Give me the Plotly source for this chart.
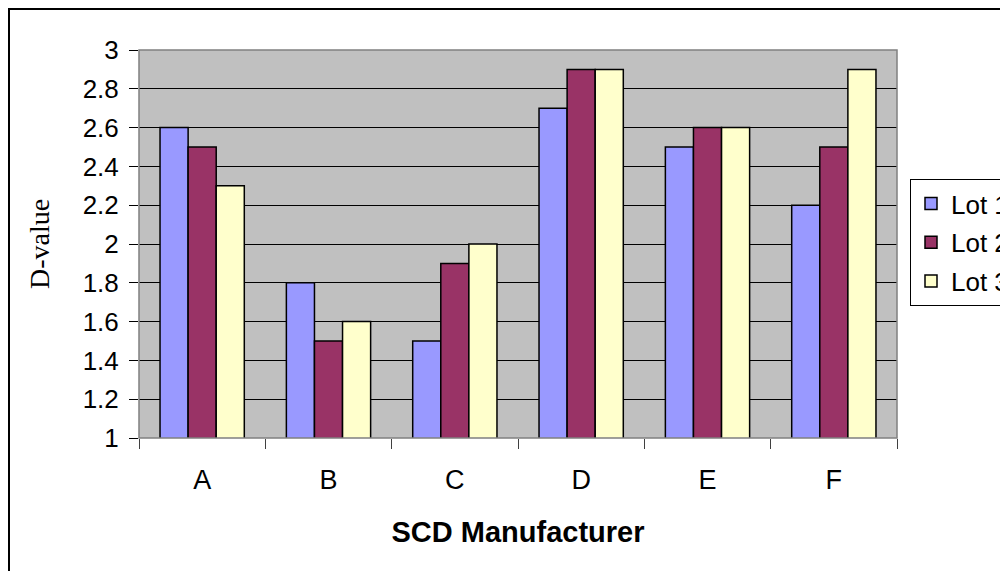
import plotly.graph_objects as go

categories = ["A", "B", "C", "D", "E", "F"]
lot1 = [2.6, 1.8, 1.5, 2.7, 2.5, 2.2]
lot2 = [2.5, 1.5, 1.9, 2.9, 2.6, 2.5]
lot3 = [2.3, 1.6, 2.0, 2.9, 2.6, 2.9]
series_names = ["Lot 1", "Lot 2", "Lot 3"]
colors = ["#9999FF", "#993366", "#FFFFCC"]
y_ticks = [1, 1.2, 1.4, 1.6, 1.8, 2, 2.2, 2.4, 2.6, 2.8, 3]
y_tick_text = ["1", "1.2", "1.4", "1.6", "1.8", "2", "2.2", "2.4", "2.6", "2.8", "3"]

# page body has an 8px margin, so the figure is offset by (8, 8)
W, H = 1000, 563
L, R, T, B = 131, 111, 42, 133
pw, ph = W - L - R, H - T - B

fig = go.Figure()
for i, (name, vals) in enumerate(zip(series_names, [lot1, lot2, lot3])):
    fig.add_trace(go.Bar(
        x=categories, y=vals, name=name,
        marker=dict(color=colors[i], line=dict(color="black", width=1.5)),
        legendgroup=name,
    ))

font_sans = "Liberation Sans, Arial, sans-serif"

fig.update_layout(
    width=W, height=H,
    margin=dict(l=L, r=R, t=T, b=B, autoexpand=False),
    paper_bgcolor="white",
    plot_bgcolor="#C0C0C0",
    barmode="group",
    bargap=0.333,
    bargroupgap=0,
    font=dict(family=font_sans, size=26, color="black"),
    xaxis=dict(
        type="category",
        tickson="boundaries",
        ticks="outside", ticklen=10, tickcolor="#404040", tickwidth=1,
        ticklabelstandoff=23,
        showgrid=False, showline=False,
        tickfont=dict(family=font_sans, size=27),
        title=dict(text="<b>SCD Manufacturer</b>", font=dict(family=font_sans, size=29), standoff=27),
    ),
    yaxis=dict(
        range=[1, 3],
        tickvals=y_ticks, ticktext=y_tick_text,
        ticks="outside", ticklen=9, tickcolor="black", tickwidth=1,
        ticklabelstandoff=5,
        showgrid=True, gridcolor="black", gridwidth=1,
        zeroline=False, showline=False,
        tickfont=dict(family=font_sans, size=26),
        title=dict(text="D-value", font=dict(family="Liberation Serif, Times New Roman, serif", size=28), standoff=24),
    ),
    legend=dict(
        x=(902 - L) / pw, y=(H - B - 171) / ph, xanchor="left", yanchor="top",
        bgcolor="white", bordercolor="black", borderwidth=1,
        font=dict(family=font_sans, size=26),
        traceorder="grouped", tracegroupgap=2,
    ),
    shapes=[
        dict(type="rect", xref="paper", yref="paper", x0=0, x1=1, y0=0, y1=1,
             line=dict(color="#808080", width=1.5), fillcolor="rgba(0,0,0,0)", layer="above"),
        dict(type="rect", xref="paper", yref="paper",
             x0=(1 - L) / pw, x1=1.3, y0=-0.6, y1=(H - B - 1) / ph,
             line=dict(color="black", width=2), fillcolor="rgba(0,0,0,0)", layer="above"),
    ],
)

fig.write_html("out.html")
